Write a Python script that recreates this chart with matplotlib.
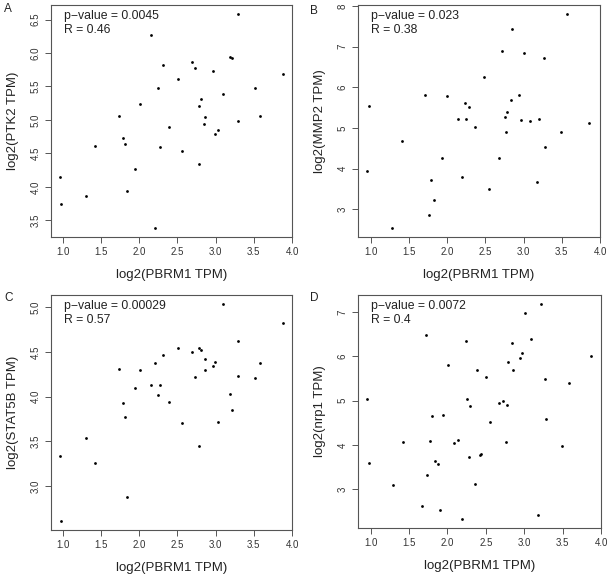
import matplotlib
matplotlib.use("Agg")
import matplotlib.pyplot as plt
import numpy as np

plt.rcParams['font.family'] = ['Liberation Sans', 'DejaVu Sans']

# PBRM1 values used in panels A, B, C
pbrm1 = [0.965, 0.983, 1.304, 1.43, 1.734, 1.786, 1.812, 1.847, 1.951, 2.016,
         2.155, 2.203, 2.25, 2.268, 2.307, 2.39, 2.507, 2.563, 2.689, 2.737,
         2.785, 2.789, 2.806, 2.858, 2.854, 2.963, 2.997, 3.032, 3.10, 3.188,
         3.219, 3.288, 3.297, 3.51, 3.588, 3.883]

ptk2 = [4.155, 3.738, 3.857, 4.612, 5.054, 4.727, 4.647, 3.942, 4.274, 5.238,
        6.262, 3.380, 5.482, 4.592, 5.824, 4.90, 5.611, 4.538, 5.869, 5.780,
        5.208, 4.344, 5.308, 5.044, 4.935, 5.735, 4.791, 4.856, 5.382, 5.934,
        5.919, 4.98, 6.589, 5.472, 5.054, 5.68]

pbrm1_b = [0.952, 0.974, 1.285, 1.415, 1.718, 1.770, 1.795, 1.834, 1.938, 1.999,
           2.137, 2.189, 2.232, 2.249, 2.288, 2.37, 2.487, 2.552, 2.673, 2.716,
           2.76, 2.773, 2.79, 2.838, 2.846, 2.941, 2.971, 3.006, 3.084, 3.175,
           3.205, 3.27, 3.283, 3.486, 3.568, 3.862]
mmp2 = [3.948, 5.549, 2.534, 4.683, 5.802, 2.861, 3.727, 3.237, 4.266, 5.786,
        5.214, 3.80, 5.623, 5.214, 5.516, 5.026, 6.252, 3.49, 4.275, 6.905,
        5.279, 4.896, 5.386, 5.68, 7.436, 5.819, 5.19, 6.832, 5.173, 3.686,
        5.214, 6.725, 4.528, 4.904, 7.812, 5.132]

pbrm1_c = [0.965, 0.983, 1.304, 1.43, 1.734, 1.786, 1.812, 1.847, 1.951, 2.016,
           2.155, 2.203, 2.25, 2.268, 2.307, 2.39, 2.507, 2.563, 2.689, 2.737,
           2.785, 2.789, 2.806, 2.858, 2.863, 2.963, 2.993, 3.032, 3.10, 3.188,
           3.219, 3.288, 3.297, 3.51, 3.588, 3.883]
stat5b = [3.339, 2.605, 3.539, 3.260, 4.303, 3.923, 3.768, 2.872, 4.096, 4.296,
          4.13, 4.371, 4.021, 4.13, 4.469, 3.942, 4.540, 3.704, 4.495, 4.220,
          4.540, 3.448, 4.522, 4.424, 4.296, 4.345, 4.386, 3.712, 5.038, 4.028,
          3.844, 4.620, 4.232, 4.205, 4.379, 4.827]

pbrm1_d = [0.952, 0.974, 1.286, 1.416, 1.668, 1.72, 1.733, 1.772, 1.798, 1.833,
           1.876, 1.906, 1.941, 2.002, 2.088, 2.14, 2.193, 2.236, 2.258, 2.275,
           2.292, 2.357, 2.379, 2.422, 2.435, 2.496, 2.557, 2.678, 2.722, 2.769,
           2.778, 2.795, 2.839, 2.852, 2.947, 2.977, 3.012, 3.09, 3.181, 3.216,
           3.277, 3.29, 3.498, 3.58, 3.875]
nrp1 = [5.038, 3.589, 3.091, 4.072, 2.608, 6.487, 3.309, 4.079, 4.660, 3.642,
        3.566, 2.525, 4.675, 5.815, 4.042, 4.117, 2.313, 6.351, 5.038, 3.725,
        4.879, 3.121, 5.694, 3.777, 3.792, 5.528, 4.517, 4.94, 5.0, 4.064,
        4.894, 5.875, 6.298, 5.694, 5.966, 6.072, 6.985, 6.404, 2.404, 7.196,
        5.491, 4.577, 3.974, 5.408, 6.011]

letters = ['A', 'B', 'C', 'D']
ylabels = ['log2(PTK2 TPM)', 'log2(MMP2 TPM)', 'log2(STAT5B TPM)', 'log2(nrp1 TPM)']
pvals = ['0.0045', '0.023', '0.00029', '0.0072']
rvals = ['0.46', '0.38', '0.57', '0.4']
yticks = [np.arange(3.5, 6.51, 0.5), np.arange(3, 8.1, 1), np.arange(3.0, 5.01, 0.5), np.arange(3, 7.1, 1)]
ytickfmt = ['%.1f', '%d', '%.1f', '%d']
xs = [pbrm1, pbrm1_b, pbrm1_c, pbrm1_d]
ys = [ptk2, mmp2, stat5b, nrp1]

W, H = 611, 574
fig = plt.figure(figsize=(W / 100, H / 100), dpi=100)

# axes boxes in pixels: left, right, top, bottom
boxes = [(51, 292, 5, 237), (358, 600, 5, 237), (51, 292, 295, 530), (358, 601, 295, 528)]
letter_pos = [(4, 9), (310, 11), (4, 298), (310, 298)]

frame_col = '#555555'
for i in range(4):
    l, r, t, b = boxes[i]
    ax = fig.add_axes([l / W, 1 - b / H, (r - l) / W, (b - t) / H])
    ax.scatter(xs[i], ys[i], s=4, color='black', linewidths=0)
    ax.margins(0.04)
    ax.set_xticks(np.arange(1.0, 4.01, 0.5))
    ax.set_xticklabels(['%.1f' % v for v in np.arange(1.0, 4.01, 0.5)])
    ax.set_yticks(yticks[i])
    ax.set_yticklabels([ytickfmt[i] % v for v in yticks[i]], rotation=90, va='center')
    ax.tick_params(labelsize=7, colors=frame_col, length=4, width=0.7, labelcolor='#333333')
    for sp in ax.spines.values():
        sp.set_color(frame_col)
        sp.set_linewidth(0.8)
    ax.set_xlabel('log2(PBRM1 TPM)', fontsize=9.5, color='#222222', labelpad=8)
    ax.set_ylabel(ylabels[i], fontsize=9.5, color='#222222', labelpad=8)
    hpx = b - t
    ax.text(13 / (r - l), 1 - 11 / hpx, 'p\u2212value = ' + pvals[i],
            transform=ax.transAxes, fontsize=8.8, va='center', ha='left', color='#222222')
    ax.text(13 / (r - l), 1 - 25 / hpx, 'R = ' + rvals[i],
            transform=ax.transAxes, fontsize=8.8, va='center', ha='left', color='#222222')
    fig.text(letter_pos[i][0] / W, 1 - letter_pos[i][1] / H, letters[i],
             fontsize=8.5, va='center', ha='left', color='#222222')

fig.savefig('out.png', dpi=100)
